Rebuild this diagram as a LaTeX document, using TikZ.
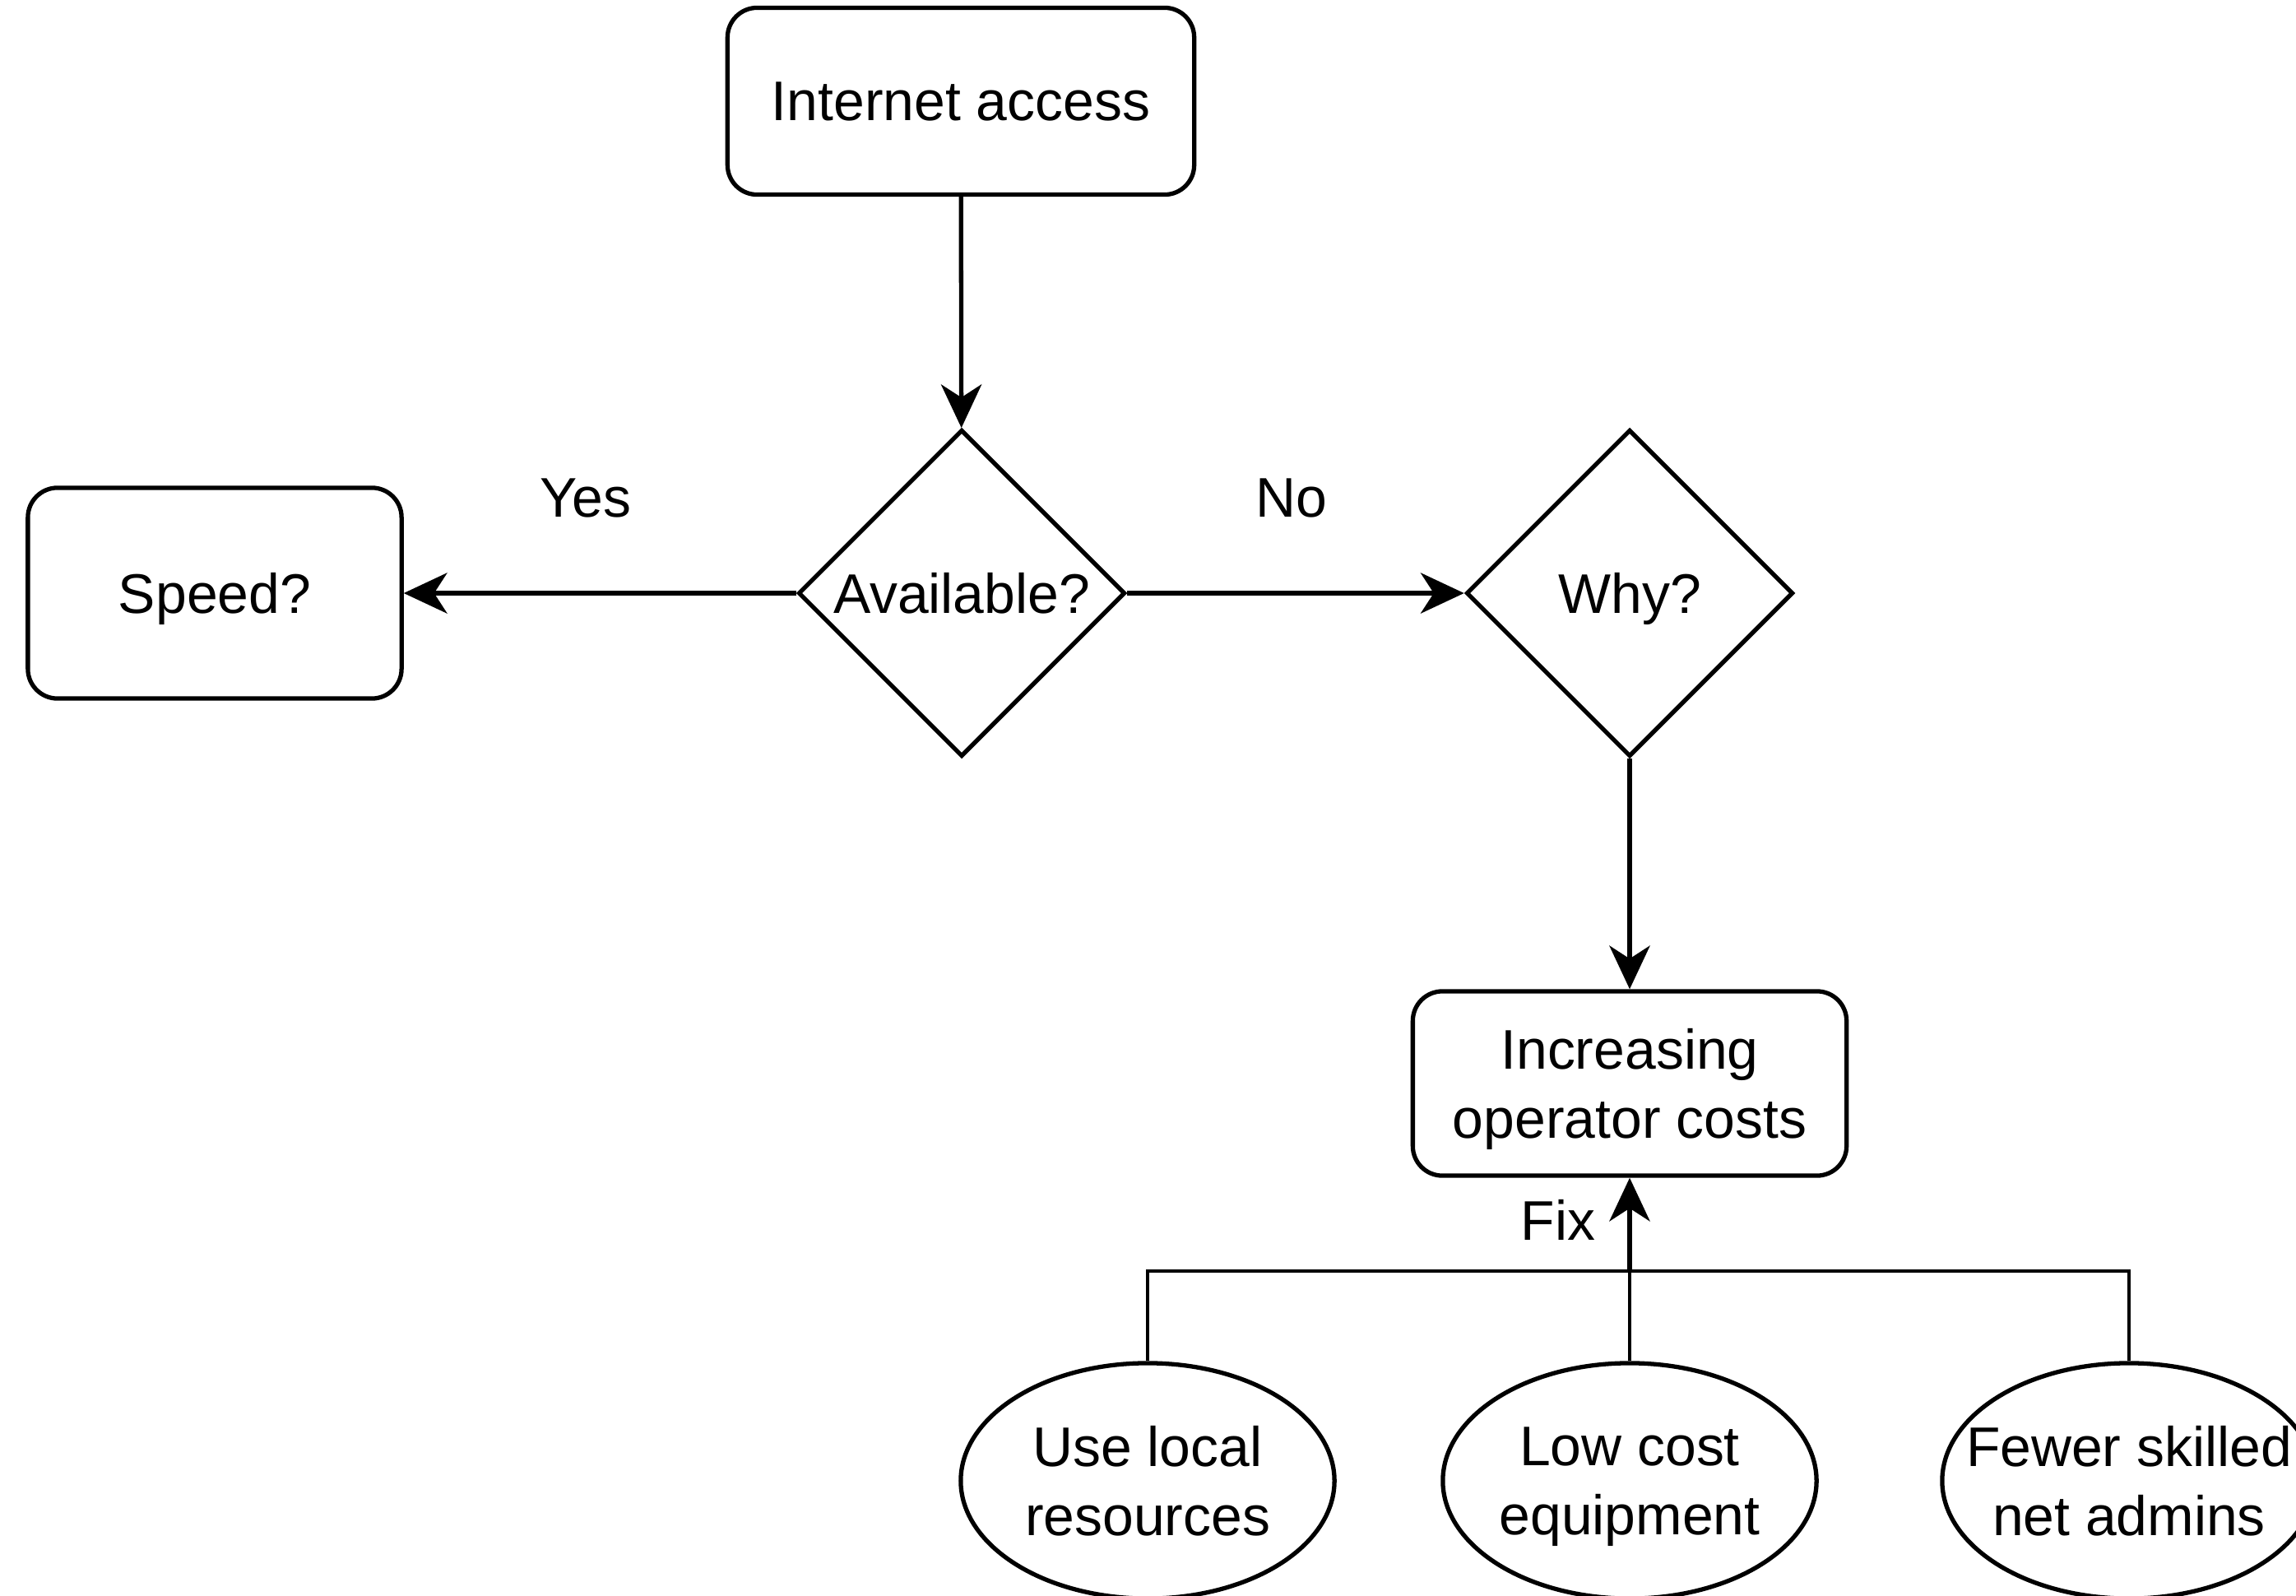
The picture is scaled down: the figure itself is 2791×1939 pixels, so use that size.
\documentclass[tikz,border=0pt]{standalone}
\usepackage{fontspec}
\setmainfont{Liberation Sans}
\usetikzlibrary{shapes.geometric,arrows.meta}
% set a line of text with its descenders ignored for centring
\newcommand\nd[1]{\raisebox{0pt}[\height][0pt]{#1}}
\begin{document}
\begin{tikzpicture}[x=0.01cm,y=-0.01cm,
  every node/.style={font=\fontsize{19.3}{23.8}\selectfont, text=black},
  box/.style={draw, line width=1.5pt, rounded corners=0.36cm, align=center, inner sep=0pt},
  choice/.style={draw, line width=1.5pt, diamond, aspect=1, inner sep=0pt,
    minimum width=3.97cm, minimum height=3.97cm},
  cause/.style={draw, line width=1.5pt, ellipse, inner sep=0pt,
    minimum width=4.54cm, minimum height=2.86cm},
  link/.style={line width=1.5pt, -{Stealth[length=15pt,width=14pt,inset=4.5pt]}},
  plain/.style={line width=1.3pt},
  lbl/.style={inner sep=0pt, align=center}]
\useasboundingbox (0,0) rectangle (2791,1939);

\node[box, minimum width=5.67cm, minimum height=2.27cm] (net) at (1168,123) {\nd{Internet access}};
\node[choice] (avail) at (1169,721) {\nd{Available?}};
\node[box, minimum width=4.54cm, minimum height=2.56cm] (speed) at (261,721) {\nd{Speed?}};
\node[choice] (why) at (1981,721) {\nd{Why?}};
\node[box, minimum width=5.27cm, minimum height=2.24cm] (inc) at (1981,1317) {\nd{Increasing}\\\nd{operator costs}};

\node[cause] (e1) at (1395,1800) {};
\node[cause] (e2) at (1981,1800) {};
\node[cause] (e3) at (2588,1800) {};
\node[lbl] (t1) at (e1) {\nd{Use local}\\\nd{resources}};
\node[lbl] (t2) at (e2) {\nd{Low cost}\\\nd{equipment}};
\node[lbl] (t3) at (e3) {\nd{Fewer skilled}\\\nd{net admins}};

\coordinate (bar) at (1981,1545);

\draw[link] (net) -- (avail);
\draw[link] (avail) -- (speed);
\draw[link] (avail) -- (why);
\draw[link] (why) -- (inc);

% the three fixes join on a common bar, then one arrow rises to the box
\draw[plain] (e1.north) |- (bar);
\draw[plain] (e3.north) |- (bar);
\draw[plain] (e2.north) -- (bar);
\draw[link] (bar) -- (inc.south);

\node[lbl] (yes) at (712,605) {\nd{Yes}};
\node[lbl] (no) at (1570,605) {\nd{No}};
\node[lbl] (fix) at (1894,1483) {\nd{Fix}};
\end{tikzpicture}
\end{document}
